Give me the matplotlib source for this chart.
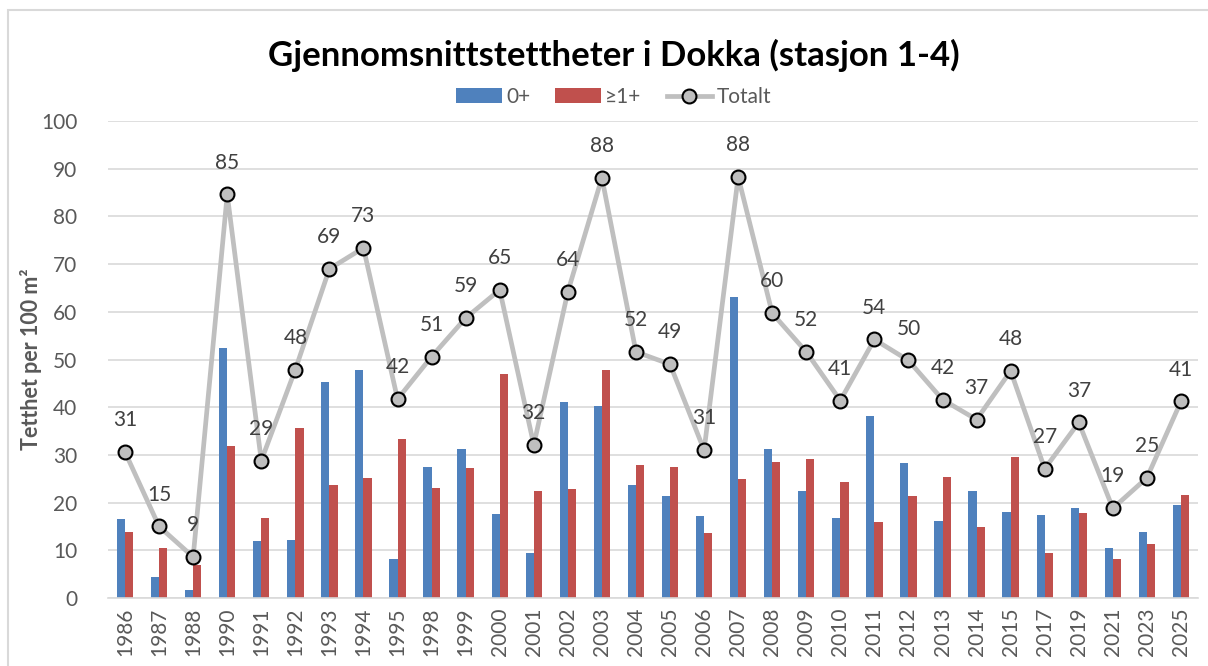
import matplotlib
matplotlib.use("Agg")
import matplotlib.pyplot as plt
from matplotlib.patches import Rectangle
import numpy as np

plt.rcParams['font.family'] = ['Lato', 'DejaVu Sans']

years = ['1986', '1987', '1988', '1990', '1991', '1992', '1993', '1994', '1995',
         '1998', '1999', '2000', '2001', '2002', '2003', '2004', '2005', '2006',
         '2007', '2008', '2009', '2010', '2011', '2012', '2013', '2014', '2015',
         '2017', '2019', '2021', '2023', '2025']

# 0+ (blue)
fry = [16.6, 4.5, 1.6, 52.4, 12.0, 12.1, 45.2, 47.9, 8.2,
       27.5, 31.3, 17.6, 9.4, 41.1, 40.2, 23.7, 21.4, 17.1,
       63.1, 31.2, 22.5, 16.8, 38.2, 28.4, 16.2, 22.4, 18.1,
       17.3, 18.8, 10.5, 13.8, 19.4]

# >=1+ (red)
older = [13.9, 10.4, 6.9, 31.9, 16.7, 35.7, 23.7, 25.2, 33.3,
         23.1, 27.2, 47.0, 22.4, 22.8, 47.8, 27.9, 27.4, 13.7,
         25.0, 28.6, 29.1, 24.3, 15.9, 21.3, 25.3, 14.9, 29.6,
         9.4, 17.8, 8.2, 11.3, 21.6]

# Totalt (grey line)
total = [30.6, 15.0, 8.6, 84.6, 28.8, 47.9, 69.0, 73.4, 41.7,
         50.6, 58.7, 64.6, 32.1, 64.2, 88.1, 51.6, 49.0, 31.0,
         88.3, 59.7, 51.6, 41.4, 54.2, 49.8, 41.6, 37.4, 47.6,
         27.1, 36.8, 18.8, 25.2, 41.2]

blue = '#4F81BD'
red = '#C0504D'
grey = '#BFBFBF'
txt = '#595959'

fig = plt.figure(figsize=(12.08, 6.66), dpi=100)
ax = fig.add_axes([108 / 1208, 68 / 666, 1090 / 1208, 477 / 666])

# chart frame
fig.patches.append(Rectangle((8 / 1208, -0.1), 1.2, (656 / 666) + 0.1,
                             transform=fig.transFigure, fill=False,
                             edgecolor='#d9d9d9', linewidth=1.5))

x = np.arange(len(years))
w = 0.24
b1 = ax.bar(x - w / 2, fry, w, color=blue, label='0+', zorder=2)
b2 = ax.bar(x + w / 2, older, w, color=red, label='≥1+', zorder=2)
ln, = ax.plot(x, total, color=grey, linewidth=3.4, marker='o', markersize=10,
              markerfacecolor='#BFBFBF', markeredgecolor='black',
              markeredgewidth=1.5, label='Totalt', zorder=3)

for xi, t in zip(x, total):
    ax.annotate(f'{round(t):d}', (xi, t), xytext=(0, 23),
                textcoords='offset points', ha='center', va='center',
                fontsize=15, color='#404040', zorder=4)

ax.set_xlim(-0.5, len(years) - 0.5)
ax.set_ylim(0, 100)
ax.set_yticks(range(0, 101, 10))
ax.yaxis.grid(True, color='#d9d9d9', linewidth=1.2, zorder=0)
ax.set_axisbelow(True)
ax.set_xticks(x)
ax.set_xticklabels(years, rotation=90)
ax.tick_params(axis='both', length=0, labelsize=15, labelcolor=txt)
ax.tick_params(axis='x', pad=7)
ax.tick_params(axis='y', pad=22)
for s in ['top', 'right', 'left']:
    ax.spines[s].set_visible(False)
ax.spines['bottom'].set_color('#d9d9d9')
ax.spines['bottom'].set_linewidth(1.2)

ax.set_ylabel('Tetthet per 100 m²', fontsize=15.5, fontweight='bold',
              color=txt)
ax.yaxis.set_label_coords(-66 / 1090, 0.5)

fig.text(0.508, 1 - 55 / 666, 'Gjennomsnittstettheter i Dokka (stasjon 1-4)',
         ha='center', va='center', fontsize=25, fontweight='bold', color='black')

fig.legend([b1, b2, ln], ['0+', '≥1+', 'Totalt'], loc='center',
           bbox_to_anchor=(0.508, 1 - 97 / 666), ncol=3,
           frameon=False, fontsize=15, handlelength=2.2, handletextpad=0.2,
           columnspacing=1.2, labelcolor=txt)

fig.savefig('out.png', dpi=100, facecolor='white')
